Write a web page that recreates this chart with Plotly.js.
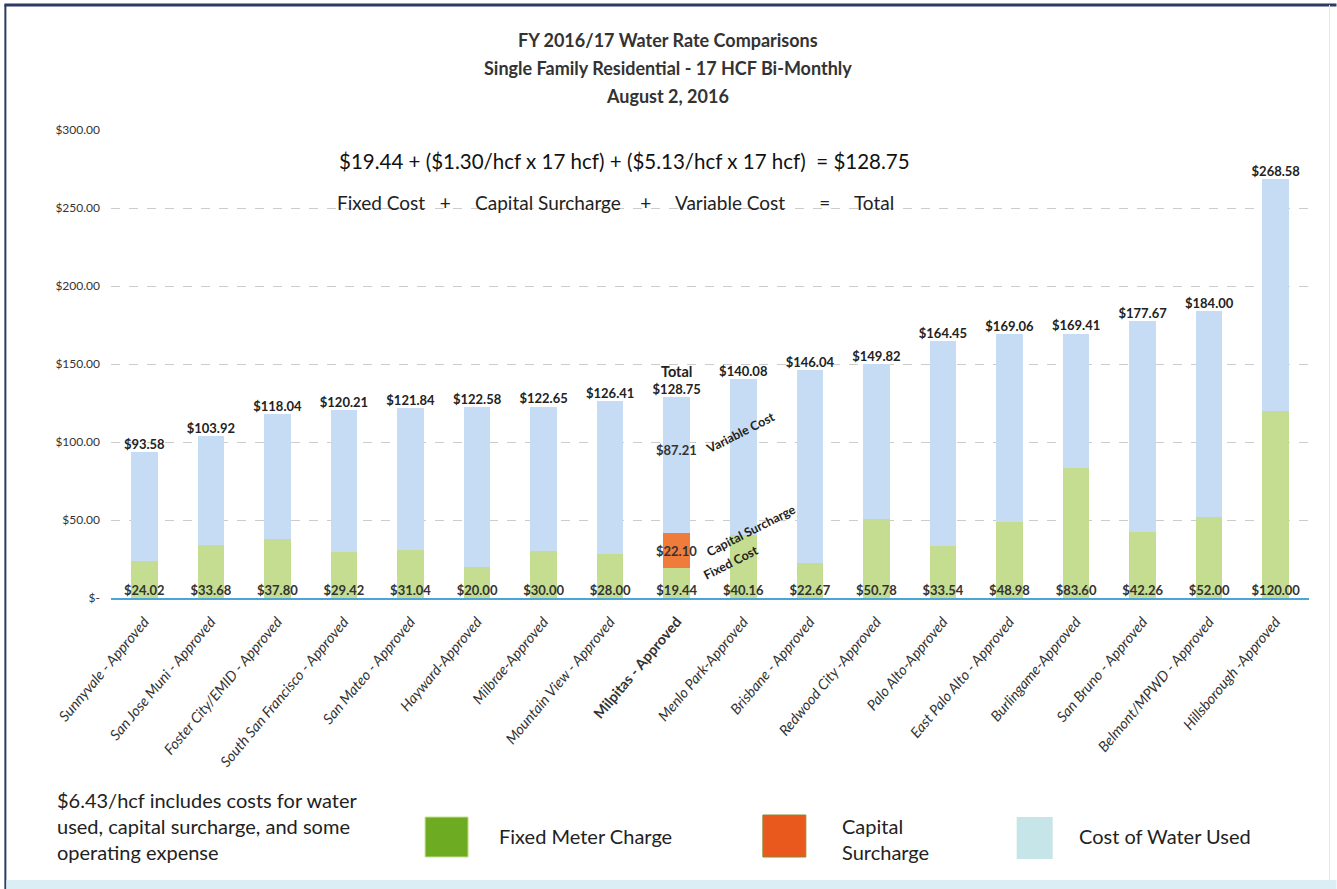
<!DOCTYPE html>
<html><head><meta charset="utf-8">
<script src="https://cdn.plot.ly/plotly-3.0.1.min.js"></script>
<style>html,body{margin:0;padding:0;background:#fff;}#chart{width:1337px;height:889px;}</style>
</head><body><div id="chart"></div>
<script>
const categories = ["Sunnyvale - Approved","San Jose Muni - Approved","Foster City/EMID - Approved","South San Francisco - Approved","San Mateo - Approved","Hayward-Approved","Milbrae-Approved","Mountain View - Approved","Milpitas - Approved","Menlo Park-Approved","Brisbane - Approved","Redwood City -Approved","Palo Alto-Approved","East Palo Alto - Approved","Burlingame-Approved","San Bruno - Approved","Belmont/MPWD - Approved","Hillsborough -Approved"];
const fixedCost = [24.02,33.68,37.80,29.42,31.04,20.00,30.00,28.00,19.44,40.16,22.67,50.78,33.54,48.98,83.60,42.26,52.00,120.00];
const capitalSurcharge = [0,0,0,0,0,0,0,0,22.10,0,0,0,0,0,0,0,0,0];
const variableCost = [69.56,70.24,80.24,90.79,90.80,102.58,92.65,98.41,87.21,99.92,123.37,99.04,130.91,120.08,85.81,135.41,132.00,148.58];
const totals = [93.58,103.92,118.04,120.21,121.84,122.58,122.65,126.41,128.75,140.08,146.04,149.82,164.45,169.06,169.41,177.67,184.00,268.58];
const yTickVals = [0,50,100,150,200,250,300];
const yTickText = ["$-","$50.00","$100.00","$150.00","$200.00","$250.00","$300.00"];
const highlightIndex = 8;

const FONT = "Lato, 'Open Sans', Arial, sans-serif";
const W = 1337, H = 889;
const L = 110.7, R = 27.5, T = 130, B = 291;
const pw = W - L - R, ph = H - T - B;
const px = x => (x - L) / pw;
const py = y => (H - B - y) / ph;

const money = v => "$" + v.toFixed(2);
const tickText = categories.map((c, i) => i === highlightIndex ? "<b>" + c + "</b>" : "<i>" + c + "</i>");
const totalText = totals.map((v, i) => i === highlightIndex ? "<b><span style='font-size:14.5px'>Total</span></b><br><b>" + money(v) + "</b>" : "<b>" + money(v) + "</b>");

const traces = [
  {type:"bar", x:categories, y:fixedCost, name:"Fixed Meter Charge", marker:{color:"#c4dd91"}},
  {type:"bar", x:categories, y:capitalSurcharge, name:"Capital Surcharge", marker:{color:"#f07c3c"}},
  {type:"bar", x:categories, y:variableCost, name:"Cost of Water Used", marker:{color:"#c6dcf4"}},
  {type:"scatter", mode:"text", x:categories, y:totals, text:totalText, textposition:"top center",
   textfont:{family:FONT, size:13, color:"#222"}, cliponaxis:false},
  {type:"scatter", mode:"text", x:categories, y:fixedCost.map(()=>0), text:fixedCost.map(v=>"<b>"+money(v)+"</b>"), textposition:"top center",
   textfont:{family:FONT, size:13, color:"#333"}, cliponaxis:false}
];

const ann = [];
const A = (o) => { ann.push(Object.assign({showarrow:false, xanchor:"center", yanchor:"middle"}, o)); };
const titleLines = ["FY 2016/17 Water Rate Comparisons","Single Family Residential - 17 HCF Bi-Monthly","August 2, 2016"];
titleLines.forEach((t, i) => A({xref:"paper", yref:"paper", x:px(668), y:py(40 + 28*i), text:"<b>" + t + "</b>",
  font:{family:FONT, size:18, color:"#333"}}));
A({xref:"paper", yref:"paper", x:px(625), y:py(161), text:"$19.44 + ($1.30/hcf x 17 hcf) + ($5.13/hcf x 17 hcf)  = $128.75",
  font:{family:FONT, size:20.5, color:"#111"}});
A({xref:"paper", yref:"paper", x:px(616), y:py(202), text:"Fixed Cost   +     Capital Surcharge    +     Variable Cost       =     Total",
  font:{family:FONT, size:19, color:"#222"}});
A({x:categories[highlightIndex], y:95, text:"<b>$87.21</b>", font:{family:FONT, size:13, color:"#333"}});
A({x:categories[highlightIndex], y:30, text:"<b>$22.10</b>", font:{family:FONT, size:13, color:"#333"}});
A({xref:"paper", yref:"paper", x:px(741), y:py(433), text:"<b>Variable Cost</b>", textangle:-27, font:{family:FONT, size:12.5, color:"#222"}});
A({xref:"paper", yref:"paper", x:px(751), y:py(530), text:"<b>Capital Surcharge</b>", textangle:-27, font:{family:FONT, size:12.5, color:"#222"}});
A({xref:"paper", yref:"paper", x:px(731), y:py(562), text:"<b>Fixed Cost</b>", textangle:-27, font:{family:FONT, size:12.5, color:"#222"}});
A({xref:"paper", yref:"paper", x:px(55), y:py(826), text:"$6.43/hcf includes costs for water<br>used, capital surcharge, and some<br>operating expense",
  xanchor:"left", align:"left", font:{family:FONT, size:20, color:"#222"}});
A({xref:"paper", yref:"paper", x:px(497), y:py(836), text:"Fixed Meter Charge", xanchor:"left", font:{family:FONT, size:20, color:"#222"}});
A({xref:"paper", yref:"paper", x:px(840), y:py(839), text:"Capital<br>Surcharge", xanchor:"left", align:"left", font:{family:FONT, size:20, color:"#222"}});
A({xref:"paper", yref:"paper", x:px(1077), y:py(836), text:"Cost of Water Used", xanchor:"left", font:{family:FONT, size:20, color:"#222"}});

const shapes = [
  {type:"rect", xref:"paper", yref:"paper", x0:px(425), x1:px(468), y0:py(857), y1:py(817), fillcolor:"#6cab22", line:{color:"#c9e08a", width:1}},
  {type:"rect", xref:"paper", yref:"paper", x0:px(763), x1:px(806), y0:py(857), y1:py(815), fillcolor:"#e9591e", line:{color:"#8a8a30", width:1}},
  {type:"rect", xref:"paper", yref:"paper", x0:px(1017), x1:px(1053), y0:py(859), y1:py(817), fillcolor:"#c6e5e9", line:{width:0}},
  {type:"line", xref:"paper", yref:"paper", x0:px(4), x1:px(1337), y0:py(5), y1:py(5), line:{color:"#2d3a62", width:3}},
  {type:"line", xref:"paper", yref:"paper", x0:px(5), x1:px(5), y0:py(5), y1:py(889), line:{color:"#2d3a62", width:2}},
  {type:"rect", xref:"paper", yref:"paper", x0:px(6), x1:px(1337), y0:py(889), y1:py(880), fillcolor:"#dbeef6", line:{width:0}},
  {type:"line", xref:"paper", yref:"paper", x0:px(1330), x1:px(1330), y0:py(5), y1:py(880), line:{color:"#e2e8ee", width:1}}
];

const layout = {
  width:W, height:H, margin:{l:L, r:R, t:T, b:B},
  paper_bgcolor:"#fff", plot_bgcolor:"#fff",
  barmode:"stack", bargap:0.6, showlegend:false,
  font:{family:FONT, color:"#333"},
  xaxis:{range:[-0.5, 17.5], tickvals:categories, ticktext:tickText, tickangle:-50, tickfont:{family:FONT, size:14.5, color:"#333"},
    showgrid:false, showline:true, linecolor:"#4aa6d6", linewidth:1.5, zeroline:false, ticks:"", ticklabelstandoff:8, automargin:false},
  yaxis:{range:[0,300], tickvals:yTickVals, ticktext:yTickText, tickfont:{family:FONT, size:12, color:"#333"},
    showgrid:true, gridcolor:"#cccccc", griddash:"dash", gridwidth:1, zeroline:false, showline:false, ticks:"", ticklabelstandoff:10, automargin:false},
  annotations:ann, shapes:shapes
};
Plotly.newPlot("chart", traces, layout, {staticPlot:true});
</script></body></html>
